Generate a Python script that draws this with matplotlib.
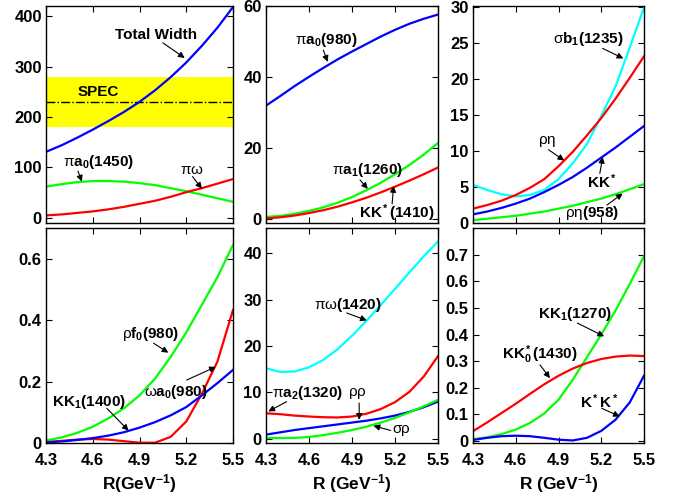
import matplotlib
matplotlib.use("Agg")
import matplotlib.pyplot as plt
from matplotlib.ticker import FuncFormatter

plt.rcParams['font.family'] = ['Liberation Sans', 'DejaVu Sans']
plt.rcParams['mathtext.fontset'] = 'custom'
plt.rcParams['mathtext.rm'] = 'Liberation Sans'
plt.rcParams['mathtext.bf'] = 'Liberation Sans:bold'
plt.rcParams['mathtext.it'] = 'Liberation Sans:italic'
plt.rcParams['mathtext.default'] = 'rm'

# ---------------- data ----------------
R = [4.3, 4.4, 4.5, 4.6, 4.7, 4.8, 4.9, 5.0, 5.1, 5.2, 5.3, 5.4, 5.5]
xticks = [4.3, 4.6, 4.9, 5.2, 5.5]

# panel (a)
total_width = [131, 144, 159, 175, 192, 210, 230, 253, 279, 308, 341, 377, 418]
pi_a0_1450 = [62, 67, 71, 73, 73, 72, 69, 65, 59, 53, 46, 39, 32]
pi_omega = [5, 7, 10, 13, 17, 22, 28, 34, 42, 51, 59, 68, 77]
spec_center, spec_low, spec_high = 230, 180, 280

# panel (b)
pi_a0_980 = [32, 34.7, 37.5, 40.1, 42.6, 45.0, 47.2, 49.3, 51.4, 53.3, 55.0, 56.4, 57.6]
pi_a1_1260 = [0.7, 1.0, 1.6, 2.4, 3.4, 4.7, 6.3, 8.2, 10.3, 12.7, 15.3, 18.2, 21.5]
kkstar_1410 = [0.3, 0.6, 1.1, 1.8, 2.6, 3.6, 4.8, 6.1, 7.6, 9.2, 10.9, 12.7, 14.6]

# panel (c)
sigma_b1 = [5.3, 4.6, 4.0, 3.7, 3.9, 4.6, 6.1, 8.3, 11.0, 14.9, 19.0, 24.4, 30.0]
rho_eta = [2.0, 2.5, 3.1, 3.9, 4.9, 6.1, 7.9, 9.9, 12.2, 14.6, 17.3, 20.2, 23.2]
kkstar = [1.2, 1.6, 2.1, 2.7, 3.4, 4.3, 5.3, 6.4, 7.7, 9.1, 10.5, 12.0, 13.5]
rho_eta958 = [0.4, 0.6, 0.8, 1.0, 1.3, 1.6, 2.0, 2.4, 2.9, 3.4, 4.0, 4.7, 5.4]

# panel (d)
rho_f0 = [0.008, 0.018, 0.033, 0.053, 0.080, 0.113, 0.155, 0.21, 0.28, 0.36, 0.45, 0.54, 0.645]
omega_a0 = [0.003, 0.007, 0.011, 0.013, 0.011, 0.006, 0.001, 0.001, 0.02, 0.07, 0.16, 0.265, 0.433]
kk1_1400 = [0.002, 0.005, 0.010, 0.016, 0.024, 0.035, 0.050, 0.068, 0.090, 0.117, 0.155, 0.195, 0.238]

# panel (e)
pi_omega1420 = [15.2, 14.4, 14.5, 15.4, 17.0, 19.3, 22.2, 25.4, 28.8, 32.3, 35.8, 39.3, 42.5]
pi_a2_1320 = [5.5, 5.3, 5.0, 4.8, 4.65, 4.6, 4.8, 5.4, 6.4, 7.9, 10.1, 13.4, 17.8]
rho_rho = [0.9, 1.4, 1.9, 2.3, 2.7, 3.1, 3.5, 3.9, 4.4, 5.0, 5.8, 6.8, 8.0]
sigma_rho = [0.2, 0.15, 0.2, 0.4, 0.8, 1.3, 1.9, 2.6, 3.5, 4.5, 5.7, 7.0, 8.4]

# panel (f)
kk1_1270 = [0.007, 0.014, 0.026, 0.043, 0.068, 0.103, 0.155, 0.23, 0.315, 0.40, 0.49, 0.59, 0.694]
kk0star_1430 = [0.037, 0.07, 0.105, 0.14, 0.177, 0.213, 0.245, 0.272, 0.293, 0.308, 0.317, 0.321, 0.319]
kstar_kstar = [0.004, 0.012, 0.018, 0.02, 0.018, 0.012, 0.005, 0.002, 0.012, 0.038, 0.08, 0.145, 0.245]

# ---------------- figure ----------------
W, H = 679, 497
fig = plt.figure(figsize=(W / 100, H / 100), dpi=100)

def rect(x0, x1, y0, y1):
    return [x0 / W, 1 - y1 / H, (x1 - x0) / W, (y1 - y0) / H]

cols = [(46, 233), (266, 438), (473, 644)]
rows = [(6, 223), (228, 443)]

axes = {}
for r, (y0, y1) in enumerate(rows):
    for c, (x0, x1) in enumerate(cols):
        axes[(r, c)] = fig.add_axes(rect(x0, x1, y0, y1))

LW = 1.6
BLUE, RED, GREEN, CYAN = (0, 0, 1), (1, 0, 0), (0, 1, 0), (0, 1, 1)
fmt = FuncFormatter(lambda v, p: ('%g' % round(v, 6)))

def style(ax, ylim, yticks, xlabel=None):
    ax.set_xlim(4.3, 5.5)
    ax.set_ylim(*ylim)
    ax.set_xticks(xticks)
    ax.set_yticks(yticks)
    ax.yaxis.set_major_formatter(fmt)
    ax.xaxis.set_major_formatter(fmt)
    ax.tick_params(direction='in', top=True, right=True, length=4, width=0.8,
                   labelsize=12)
    ax.tick_params(axis='x', pad=7)
    ax.tick_params(axis='y', pad=3)
    for lab in ax.get_xticklabels() + ax.get_yticklabels():
        lab.set_fontweight('bold')
    if xlabel is None:
        ax.set_xticklabels([])
    else:
        ax.set_xlabel(xlabel, fontsize=12.5, labelpad=3)
    for s in ax.spines.values():
        s.set_linewidth(1.0)

def label(ax, x, y, s, tail=None, tip=None, size=11):
    ax.text(x, y, s, ha='left', va='center', fontsize=size, fontweight='bold')
    if tail is not None:
        ax.annotate('', xy=tip, xytext=tail,
                    arrowprops=dict(arrowstyle='-|>', color='k', lw=0.8,
                                    mutation_scale=9, shrinkA=0, shrinkB=0))

# (a)
ax = axes[(0, 0)]
ax.axhspan(spec_low, spec_high, color=(1, 1, 0), lw=0)
ax.plot([4.3, 5.5], [spec_center, spec_center], color='k', ls='-.', lw=1.0)
ax.plot(R, total_width, color=BLUE, lw=LW)
ax.plot(R, pi_a0_1450, color=GREEN, lw=LW)
ax.plot(R, pi_omega, color=RED, lw=LW)
style(ax, (-10, 420), [0, 100, 200, 300, 400])
label(ax, 4.505, 250, 'SPEC')
label(ax, 4.74, 363, 'Total Width', (5.05, 347), (5.19, 317))
label(ax, 4.41, 111, r'$\pi\mathbf{a_0(1450)}$', (4.505, 93), (4.53, 72))
label(ax, 5.16, 95, r'$\pi\omega$', (5.24, 82), (5.3, 58))

# (b)
ax = axes[(0, 1)]
ax.plot(R, pi_a0_980, color=BLUE, lw=LW)
ax.plot(R, pi_a1_1260, color=GREEN, lw=LW)
ax.plot(R, kkstar_1410, color=RED, lw=LW)
style(ax, (-1, 60), [0, 20, 40, 60])
label(ax, 4.50, 50.4, r'$\pi\mathbf{a_0(980)}$', (4.70, 47.6), (4.73, 44.3))
label(ax, 4.76, 13.9, r'$\pi\mathbf{a_1(1260)}$', (4.956, 11.1), (5.01, 8.6))
label(ax, 4.95, 1.8, r'$\mathbf{KK^*(1410)}$', (5.18, 4.4), (5.19, 9.4))

# (c)
ax = axes[(0, 2)]
ax.plot(R, sigma_b1, color=CYAN, lw=LW)
ax.plot(R, rho_eta, color=RED, lw=LW)
ax.plot(R, kkstar, color=BLUE, lw=LW)
ax.plot(R, rho_eta958, color=GREEN, lw=LW)
style(ax, (0, 30.2), [0, 5, 10, 15, 20, 25, 30])
label(ax, 4.86, 25.6, r'$\sigma\mathbf{b_1(1235)}$', (5.21, 24.3), (5.355, 22.9))
label(ax, 4.756, 11.3, r'$\rho\eta$', (4.83, 10.2), (4.94, 8.7))
label(ax, 5.10, 5.7, r'$\mathbf{KK^*}$', (5.19, 6.9), (5.21, 9.2))
label(ax, 4.945, 1.35, r'$\rho\eta\mathbf{(958)}$', (5.24, 2.5), (5.35, 4.1))

# (d)
ax = axes[(1, 0)]
ax.plot(R, rho_f0, color=GREEN, lw=LW)
ax.plot(R, omega_a0, color=RED, lw=LW)
ax.plot(R, kk1_1400, color=BLUE, lw=LW)
style(ax, (0, 0.7), [0, 0.2, 0.4, 0.6], xlabel=r'$\mathbf{R(GeV^{-1})}$')
label(ax, 4.786, 0.355, r'$\rho\mathbf{f_0(980)}$', (4.99, 0.325), (5.085, 0.294))
label(ax, 4.93, 0.167, r'$\omega\mathbf{a_0(980)}$', (5.203, 0.205), (5.39, 0.248))
label(ax, 4.337, 0.134, r'$\mathbf{KK_1(1400)}$', (4.69, 0.113), (4.83, 0.040))

# (e)
ax = axes[(1, 1)]
ax.plot(R, pi_omega1420, color=CYAN, lw=LW)
ax.plot(R, pi_a2_1320, color=RED, lw=LW)
ax.plot(R, rho_rho, color=BLUE, lw=LW)
ax.plot(R, sigma_rho, color=GREEN, lw=LW)
style(ax, (-0.9, 45.4), [0, 10, 20, 30, 40], xlabel=r'$\mathbf{R\ (GeV^{-1})}$')
label(ax, 4.635, 28.8, r'$\pi\omega\mathbf{(1420)}$', (4.863, 27.1), (5.003, 25.5))
label(ax, 4.34, 9.8, r'$\pi\mathbf{a_2(1320)}$', (4.444, 8.0), (4.316, 5.9))
label(ax, 4.872, 9.8, r'$\rho\rho$', (4.95, 7.7), (4.95, 4.1))
label(ax, 5.177, 1.8, r'$\sigma\rho$', (5.17, 1.8), (5.05, 2.8))

# (f)
ax = axes[(1, 2)]
ax.plot(R, kk1_1270, color=GREEN, lw=LW)
ax.plot(R, kk0star_1430, color=RED, lw=LW)
ax.plot(R, kstar_kstar, color=BLUE, lw=LW)
style(ax, (-0.0075, 0.80), [0, 0.1, 0.2, 0.3, 0.4, 0.5, 0.6, 0.7],
      xlabel=r'$\mathbf{R\ (GeV^{-1})}$')
label(ax, 4.754, 0.478, r'$\mathbf{KK_1(1270)}$', (5.032, 0.443), (5.22, 0.393))
label(ax, 4.503, 0.324, r'$\mathbf{KK_0^*(1430)}$', (4.77, 0.286), (4.84, 0.236))
label(ax, 5.05, 0.148, r'$\mathbf{K^*K^*}$', (5.203, 0.123), (5.33, 0.092))

fig.savefig('out.png', dpi=100)
